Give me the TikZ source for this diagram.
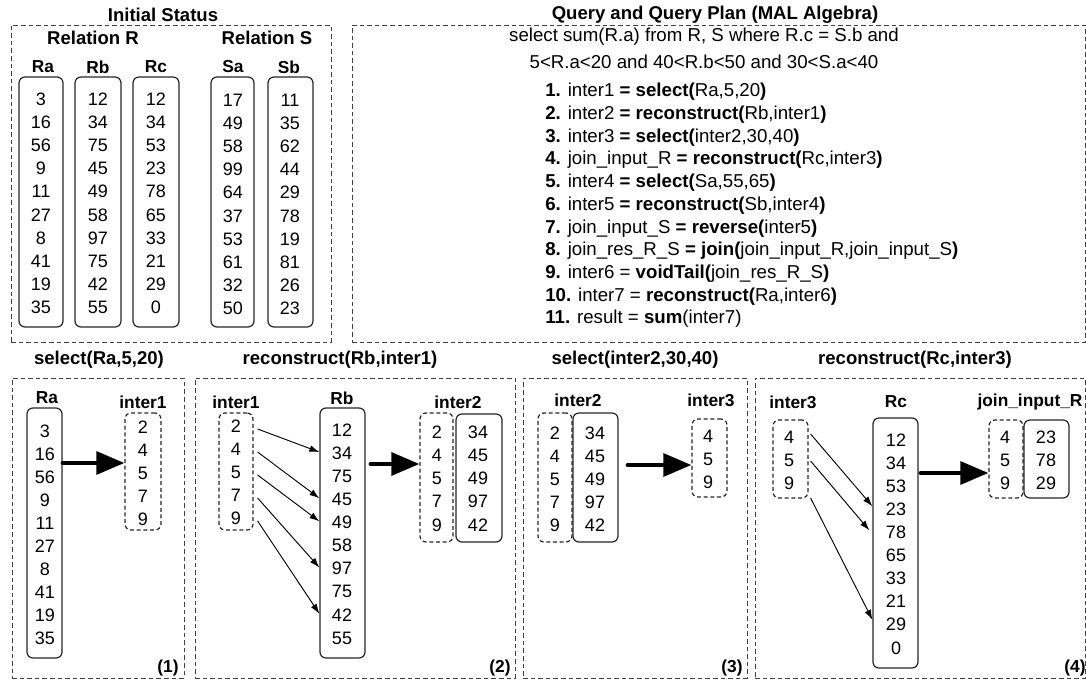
\documentclass[tikz,border=0pt]{standalone}
\usepackage{fontspec}
\setmainfont{Liberation Sans}
\usetikzlibrary{arrows.meta,fit,calc}

% a column of values: name prefix, x, first y, row step, values
\newcommand\valcol[5]{%
  \foreach \v [count=\i] in {#5} \node[num] (#1\i) at ({#2},{#3+#4*(\i-1)}) {\v};}

\tikzset{
  num/.style={font=\fontsize{13.5}{16}\selectfont, inner sep=0pt},
  hdr/.style={font=\bfseries\fontsize{13}{15}\selectfont, inner sep=0pt},
  ttl/.style={font=\bfseries\fontsize{13.9}{16}\selectfont, inner sep=0pt},
  qtxt/.style={font=\fontsize{14}{16}\selectfont, inner sep=0pt},
  colbox/.style={draw=black!85, line width=0.9pt, rounded corners=4.5pt, inner sep=0pt},
  dbox/.style={colbox, dash pattern=on 3pt off 2pt},
  panel/.style={draw=black!75, line width=0.7pt, dash pattern=on 3.5pt off 2.2pt, inner sep=0pt},
  bigarrow/.style={line width=3pt, line cap=round, -{Triangle[length=21pt,width=17pt]}},
  linkarrow/.style={line width=0.7pt, -{Latex[length=7.5pt,width=5pt]}},
}

\begin{document}
\begin{tikzpicture}[x=0.75pt,y=-0.75pt]
\useasboundingbox (0,0) rectangle (1086,680);

% ---------------- initial status ----------------
\node[ttl] (tInit) at (163,15) {Initial Status};
\node[panel, fit={(11,25) (331,342)}] (pInit) {};
\node[ttl] (relR) at (93,38) {Relation R};
\node[ttl] (relS) at (267,38) {Relation S};
\node[hdr] (hRa) at (43,67) {Ra};
\node[hdr] (hRb) at (98,67) {Rb};
\node[hdr] (hRc) at (156,67) {Rc};
\node[hdr] (hSa) at (233,67) {Sa};
\node[hdr] (hSb) at (289,67) {Sb};
\node[colbox, fit={(19,77) (63,327)}] (bRa) {};
\node[colbox, fit={(75,77) (121,327)}] (bRb) {};
\node[colbox, fit={(133,77) (179,327)}] (bRc) {};
\node[colbox, fit={(211,77) (254,327)}] (bSa) {};
\node[colbox, fit={(268,77) (313,327)}] (bSb) {};
\valcol{ra}{41}{99}{23.2}{3,16,56,9,11,27,8,41,19,35}
\valcol{rb}{98}{99}{23.2}{12,34,75,45,49,58,97,75,42,55}
\valcol{rc}{156}{99}{23.2}{12,34,53,23,78,65,33,21,29,0}
\valcol{sa}{233}{100}{23.2}{17,49,58,99,64,37,53,61,32,50}
\valcol{sb}{290}{100}{23.2}{11,35,62,44,29,78,19,81,26,23}

% ---------------- query and plan ----------------
\node[ttl] (tQuery) at (715,15) {Query and Query Plan (MAL Algebra)};
\node[panel, fit={(352,25) (1085,342)}] (pQuery) {};
\node[qtxt] (q1) at (704,37) {select sum(R.a) from R, S where R.c = S.b and};
\node[qtxt] (q2) at (704,62) {5<R.a<20 and 40<R.b<50 and 30<S.a<40};
\foreach \line [count=\i] in {
  {\textbf{1.} inter1 \textbf{= select(}Ra,5,20\textbf{)}},
  {\textbf{2.} inter2 \textbf{= reconstruct(}Rb,inter1\textbf{)}},
  {\textbf{3.} inter3 \textbf{= select(}inter2,30,40\textbf{)}},
  {\textbf{4.} join\_input\_R \textbf{= reconstruct(}Rc,inter3\textbf{)}},
  {\textbf{5.} inter4 \textbf{= select(}Sa,55,65\textbf{)}},
  {\textbf{6.} inter5 \textbf{= reconstruct(}Sb,inter4\textbf{)}},
  {\textbf{7.} join\_input\_S \textbf{= reverse(}inter5\textbf{)}},
  {\textbf{8.} join\_res\_R\_S \textbf{= join(}join\_input\_R,join\_input\_S\textbf{)}},
  {\textbf{9.} inter6 = \textbf{voidTail(}join\_res\_R\_S\textbf{)}},
  {\textbf{10.} inter7 = \textbf{reconstruct(}Ra,inter6\textbf{)}},
  {\textbf{11.} result = \textbf{sum}(inter7)}}
  \node[qtxt, anchor=west] (plan\i) at (545,{92+22.7*(\i-1)}) {\line};

% ---------------- step (1): select(Ra,5,20) ----------------
\node[ttl] (t1) at (99,360) {select(Ra,5,20)};
\node[panel, fit={(12,378) (184,678)}] (p1) {};
\node[hdr] (h1Ra) at (47,398) {Ra};
\node[colbox, fit={(27,408) (62,658)}] (b1Ra) {};
\valcol{pa}{45}{431}{23}{3,16,56,9,11,27,8,41,19,35}
\node[hdr] (h1I) at (143,402) {inter1};
\node[dbox, fit={(125,413) (161,530)}] (b1I) {};
\valcol{pb}{143}{427}{23}{2,4,5,7,9}
\coordinate (a1) at (0,463);
\draw[bigarrow] (b1Ra.east |- a1) -- (b1I.west |- a1);
\node[hdr] (n1) at (168,668) {(1)};

% ---------------- step (2): reconstruct(Rb,inter1) ----------------
\node[ttl] (t2) at (340,360) {reconstruct(Rb,inter1)};
\node[panel, fit={(195,378) (515,678)}] (p2) {};
\node[hdr] (h2I) at (236,402) {inter1};
\node[dbox, fit={(219,413) (253,530)}] (b2I) {};
\valcol{qa}{236}{426}{23}{2,4,5,7,9}
\node[hdr] (h2Rb) at (342,398) {Rb};
\node[colbox, fit={(320,408) (365,658)}] (b2Rb) {};
\valcol{qb}{342}{430}{23.1}{12,34,75,45,49,58,97,75,42,55}
\foreach \s/\t in {1/2,2/4,3/5,4/7,5/9}
  \draw[linkarrow] ($(b2I.east |- qa\s)+(4,3)$) -- ($(b2Rb.west |- qb\t)+(0,-1)$);
\coordinate (a2) at (0,464);
\node[hdr] (h2O) at (458,402) {inter2};
\node[dbox, fit={(420,413) (453,542)}] (b2Ol) {};
\node[colbox, fit={(456,414) (502,542)}] (b2Or) {};
\valcol{qc}{437}{432}{23.25}{2,4,5,7,9}
\valcol{qd}{478}{432}{23.25}{34,45,49,97,42}
\draw[bigarrow] ($(b2Rb.east |- a2)+(5,0)$) -- (b2Ol.west |- a2);
\node[hdr] (n2) at (500,668) {(2)};

% ---------------- step (3): select(inter2,30,40) ----------------
\node[ttl] (t3) at (635,360) {select(inter2,30,40)};
\node[panel, fit={(523,378) (747,678)}] (p3) {};
\node[hdr] (h3I) at (578,400) {inter2};
\node[dbox, fit={(538,413) (572,542)}] (b3Il) {};
\node[colbox, fit={(573,413) (618,542)}] (b3Ir) {};
\valcol{ra3}{555}{433}{23}{2,4,5,7,9}
\valcol{rb3}{595}{433}{23}{34,45,49,97,42}
\node[hdr] (h3O) at (711,400) {inter3};
\node[dbox, fit={(692,419) (727,497)}] (b3O) {};
\valcol{rc3}{708}{436}{23}{4,5,9}
\coordinate (a3) at (0,465);
\draw[bigarrow] ($(b3Ir.east |- a3)+(9,0)$) -- (b3O.west |- a3);
\node[hdr] (n3) at (732,668) {(3)};

% ---------------- step (4): reconstruct(Rc,inter3) ----------------
\node[ttl] (t4) at (915,360) {reconstruct(Rc,inter3)};
\node[panel, fit={(755,378) (1085,678)}] (p4) {};
\node[hdr] (h4I) at (793,402) {inter3};
\node[dbox, fit={(773,420) (808,498)}] (b4I) {};
\valcol{sa4}{789}{437}{23}{4,5,9}
\node[hdr] (h4Rc) at (896,402) {Rc};
\node[colbox, fit={(873,418) (918,668)}] (b4Rc) {};
\valcol{sb4}{896}{440}{23.1}{12,34,53,23,78,65,33,21,29,0}
\foreach \s/\t/\dy/\dx/\ey in {1/4/-3/0/-3, 2/5/1/-3/-2, 3/9/15/0/-5}
  \draw[linkarrow] ($(b4I.east |- sa4\s)+(2,\dy)$) -- ($(b4Rc.west |- sb4\t)+(\dx,\ey)$);
\coordinate (a4) at (0,473);
\node[hdr] (h4O) at (1030,402) {join\_input\_R};
\node[dbox, fit={(989,420) (1023,498)}] (b4Ol) {};
\node[colbox, fit={(1024,420) (1069,498)}] (b4Or) {};
\valcol{sc4}{1005}{437}{23}{4,5,9}
\valcol{sd4}{1046}{437}{23}{23,78,29}
\draw[bigarrow] ($(b4Rc.east |- a4)+(2,0)$) -- (b4Ol.west |- a4);
\node[hdr] (n4) at (1075,668) {(4)};
\end{tikzpicture}
\end{document}
